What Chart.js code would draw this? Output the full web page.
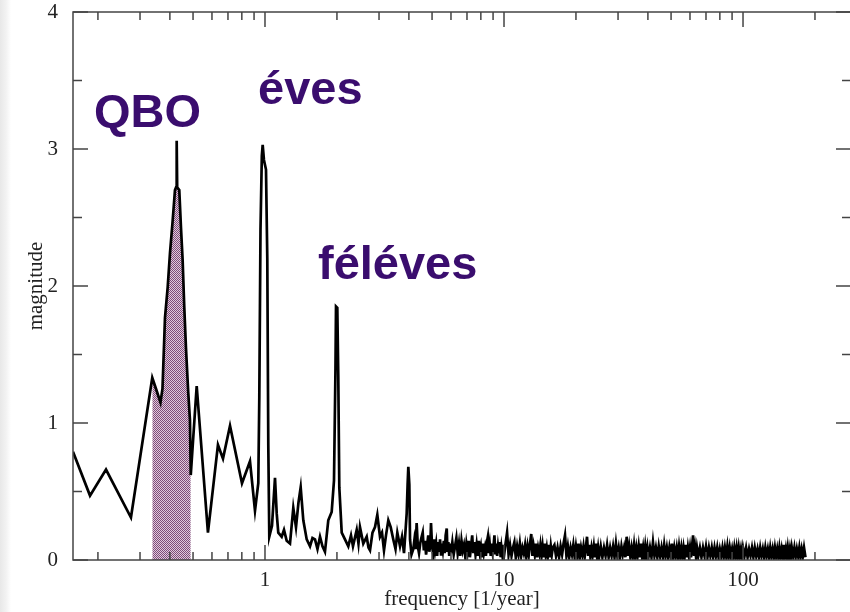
<!DOCTYPE html>
<html>
  <head>
    <title>Spectrum - magnitude</title>
    <style>
      html, body { margin: 0; padding: 0; overflow: hidden; }
      body {
        width: 850px; height: 612px;
        background: linear-gradient(to right, #e8e8e8 0px, #f2f2f2 6px, #ffffff 11px);
      }
      .chart-container { width: 860px; height: 612px; }
    </style>
  </head>
  <body>
    <div class="chart-container">
      <canvas id="mycanvas" width="860" height="612"></canvas>
    </div>

    <script src="https://cdn.jsdelivr.net/npm/chart.js@4.4.1/dist/chart.umd.min.js"></script>
    <script>
      // low frequency part (frequency in 1/year)
      var lowFreq = [0.1573, 0.1853, 0.2162, 0.2749, 0.3376, 0.3499, 0.3654, 0.3725, 0.3816, 0.3916,
        0.4004, 0.411, 0.4201, 0.4245, 0.4271, 0.4292, 0.4379, 0.445, 0.4523, 0.4594,
        0.467, 0.4775, 0.4854, 0.4891, 0.5179, 0.5772, 0.6357, 0.6672, 0.7139, 0.8012,
        0.8654, 0.9082, 0.9375, 0.9467, 0.9576, 0.970, 0.978, 0.990, 1.0097, 1.0224,
        1.0323, 1.0423, 1.0698, 1.1012, 1.1194, 1.1366, 1.1746, 1.2009, 1.2326, 1.2724,
        1.3135, 1.3481, 1.3808, 1.4104, 1.4465, 1.4947, 1.5429, 1.58, 1.619, 1.658,
        1.699, 1.740, 1.782, 1.840, 1.901, 1.944, 1.972, 1.982, 2.007, 2.026,
        2.046, 2.094, 2.161, 2.231, 2.290, 2.334, 2.419, 2.461, 2.497, 2.578,
        2.664, 2.710, 2.750, 2.817, 2.886, 2.951, 3.028, 3.087, 3.147, 3.208,
        3.281, 3.357, 3.442, 3.516, 3.578, 3.672, 3.743, 3.816, 3.916, 3.951,
        3.978, 4.017, 4.044, 4.102, 4.174];
      var lowMag = [0.79, 0.47, 0.66, 0.31, 1.33, 1.25, 1.15, 1.25, 1.77, 1.99,
        2.24, 2.48, 2.70, 2.72, 3.06, 2.72, 2.70, 2.43, 2.19, 1.85,
        1.55, 1.22, 1.02, 0.62, 1.27, 0.20, 0.84, 0.74, 0.98, 0.56,
        0.72, 0.36, 0.56, 1.19, 2.41, 2.95, 3.03, 2.92, 2.85, 2.20,
        0.84, 0.17, 0.25, 0.60, 0.34, 0.20, 0.17, 0.22, 0.14, 0.12,
        0.38, 0.24, 0.42, 0.53, 0.29, 0.15, 0.10, 0.16, 0.15, 0.08,
        0.17, 0.10, 0.06, 0.29, 0.35, 0.58, 1.40, 1.85, 1.84, 1.34,
        0.53, 0.20, 0.15, 0.10, 0.18, 0.10, 0.22, 0.12, 0.24, 0.12,
        0.17, 0.09, 0.07, 0.20, 0.24, 0.33, 0.17, 0.20, 0.07, 0.18,
        0.29, 0.24, 0.15, 0.08, 0.20, 0.10, 0.17, 0.05, 0.34, 0.55,
        0.68, 0.55, 0.15, 0.04, 0.08];

      // noisy high frequency part, in pieces
      var highFreq = [
        4.22, 4.27, 4.31, 4.36, 4.41, 4.46, 4.51, 4.57, 4.62, 4.67,
        4.72, 4.77, 4.82, 4.87, 4.92, 4.95, 5.00, 5.05, 5.10, 5.15,
        5.20, 5.25, 5.30, 5.35, 5.40, 5.45, 5.50, 5.55, 5.60, 5.65,
        5.70, 5.76, 5.80, 5.85, 5.90, 5.95, 6.00,
        6.08, 6.16, 6.24, 6.32, 6.40, 6.48, 6.56, 6.64, 6.72, 6.80,
        6.88, 6.96, 7.04, 7.12, 7.20, 7.28, 7.36, 7.44, 7.52, 7.60,
        7.68, 7.76, 7.84, 7.92, 8.00, 8.08, 8.16, 8.24, 8.32, 8.40,
        8.48, 8.56, 8.64, 8.72, 8.80, 8.88, 8.96, 9.04, 9.12, 9.20,
        9.28, 9.36, 9.44, 9.52, 9.60, 9.68, 9.76, 9.84, 9.92, 10.00,
        10.15, 10.30, 10.45, 10.60, 10.75, 10.90, 11.05, 11.20, 11.35, 11.50,
        11.65, 11.80, 11.95, 12.10, 12.25, 12.40, 12.55, 12.70, 12.85, 13.00,
        13.15, 13.30, 13.45, 13.60, 13.75, 13.90, 14.05, 14.20, 14.35, 14.50,
        14.65, 14.80, 14.95, 15.10, 15.25, 15.40, 15.55, 15.70, 15.85, 16.00,
        16.25, 16.50, 16.75, 17.00, 17.25, 17.50, 17.75, 18.00, 18.25, 18.50,
        18.75, 19.00, 19.25, 19.50, 19.75, 20.00, 20.25, 20.50, 20.75, 21.00,
        21.25, 21.50, 21.75, 22.00, 22.25, 22.50, 22.75, 23.00, 23.25, 23.50,
        23.75, 24.00, 24.25, 24.50, 24.75, 25.00,
        25.4, 25.8, 26.2, 26.6, 27.0, 27.4, 27.8, 28.2, 28.6, 29.0,
        29.4, 29.8, 30.2, 30.6, 31.0, 31.4, 31.8, 32.2, 32.6, 33.0,
        33.4, 33.8, 34.2, 34.6, 35.0, 35.4, 35.8, 36.2, 36.6, 37.0,
        37.4, 37.8, 38.2, 38.6, 39.0, 39.4, 39.8, 40.2,
        40.8, 41.4, 42.0, 42.6, 43.2, 43.8, 44.4, 45.0, 45.6, 46.2,
        46.8, 47.4, 48.0, 48.6, 49.2, 49.8, 50.4, 51.0, 51.6, 52.2,
        52.8, 53.4, 54.0, 54.6, 55.2, 55.8, 56.4, 57.0, 57.6, 58.2,
        58.8, 59.4, 60.0, 60.6, 61.2, 61.8, 62.4, 63.0, 63.6, 64.2,
        65, 66, 67, 68, 69, 70, 71, 72, 73, 74,
        75, 76, 77, 78, 79, 80, 81, 82, 83, 84,
        85, 86, 87, 88, 89, 90, 91, 92, 93, 94,
        95, 96, 97, 98, 99, 100,
        101.5, 103, 104.5, 106, 107.5, 109, 110.5, 112, 113.5, 115,
        116.5, 118, 119.5, 121, 122.5, 124, 125.5, 127, 128.5, 130,
        131.5, 133, 134.5, 136, 137.5, 139, 140.5, 142, 143.5, 145,
        146.5, 148, 149.5, 151, 152.5, 154, 155.5, 157, 158.5, 160,
        162, 164, 166, 168, 170, 172, 174, 176, 178, 180, 182.5];
      var highMag = [
        0.15, 0.08, 0.27, 0.10, 0.05, 0.12, 0.16, 0.20, 0.07, 0.14,
        0.04, 0.11, 0.18, 0.06, 0.12, 0.27, 0.10, 0.05, 0.15, 0.07,
        0.12, 0.03, 0.13, 0.06, 0.15, 0.04, 0.12, 0.07, 0.14, 0.05,
        0.18, 0.23, 0.06, 0.13, 0.03, 0.12, 0.05,
        0.13, 0.04, 0.10, 0.16, 0.05, 0.12, 0.03, 0.14, 0.07, 0.11,
        0.03, 0.12, 0.06, 0.14, 0.02, 0.10, 0.18, 0.05, 0.13, 0.04,
        0.11, 0.03, 0.14, 0.06, 0.10, 0.02, 0.12, 0.05, 0.09, 0.03,
        0.13, 0.17, 0.05, 0.11, 0.03, 0.12, 0.06, 0.10, 0.18, 0.04,
        0.12, 0.03, 0.10, 0.05, 0.13, 0.02, 0.09, 0.04, 0.11, 0.03,
        0.12, 0.20, 0.04, 0.11, 0.03, 0.09, 0.13, 0.02, 0.10, 0.04,
        0.12, 0.03, 0.09, 0.05, 0.11, 0.02, 0.10, 0.04, 0.12, 0.19,
        0.03, 0.10, 0.04, 0.12, 0.02, 0.09, 0.05, 0.11, 0.03, 0.10,
        0.02, 0.12, 0.04, 0.09, 0.03, 0.11, 0.02, 0.10, 0.04, 0.09,
        0.11, 0.03, 0.09, 0.02, 0.10, 0.04, 0.12, 0.18, 0.03, 0.10,
        0.02, 0.09, 0.04, 0.11, 0.02, 0.10, 0.03, 0.12, 0.02, 0.09,
        0.04, 0.10, 0.02, 0.09, 0.17, 0.03, 0.11, 0.02, 0.09, 0.04,
        0.10, 0.02, 0.12, 0.03, 0.09, 0.02,
        0.10, 0.02, 0.09, 0.03, 0.11, 0.02, 0.09, 0.03, 0.10, 0.02,
        0.12, 0.03, 0.09, 0.02, 0.10, 0.04, 0.09, 0.02, 0.17, 0.03,
        0.10, 0.02, 0.09, 0.03, 0.11, 0.02, 0.09, 0.03, 0.10, 0.02,
        0.12, 0.03, 0.09, 0.02, 0.10, 0.03, 0.09, 0.02,
        0.09, 0.02, 0.13, 0.03, 0.09, 0.02, 0.10, 0.03, 0.09, 0.02,
        0.11, 0.03, 0.09, 0.02, 0.09, 0.03, 0.12, 0.02, 0.09, 0.03,
        0.09, 0.02, 0.10, 0.03, 0.09, 0.02, 0.09, 0.03, 0.11, 0.02,
        0.09, 0.03, 0.09, 0.02, 0.10, 0.18, 0.03, 0.09, 0.02, 0.09,
        0.03, 0.09, 0.02, 0.09, 0.03, 0.10, 0.02, 0.09, 0.03, 0.09,
        0.02, 0.09, 0.03, 0.09, 0.02, 0.08, 0.03, 0.09, 0.02, 0.09,
        0.03, 0.10, 0.02, 0.09, 0.03, 0.08, 0.02, 0.09, 0.03, 0.09,
        0.02, 0.09, 0.03, 0.08, 0.02, 0.09,
        0.03, 0.09, 0.02, 0.08, 0.03, 0.09, 0.02, 0.09, 0.03, 0.08,
        0.02, 0.09, 0.03, 0.08, 0.02, 0.09, 0.03, 0.08, 0.02, 0.09,
        0.03, 0.08, 0.02, 0.09, 0.03, 0.08, 0.02, 0.09, 0.03, 0.08,
        0.02, 0.11, 0.03, 0.08, 0.02, 0.09, 0.03, 0.08, 0.02, 0.09,
        0.03, 0.09, 0.02, 0.08, 0.03, 0.09, 0.02, 0.08, 0.03, 0.09, 0.02];

      // shaded QBO band limits (1/year)
      var qboRange = [0.3376, 0.4891];

      var xLabels = [1, 10, 100];
      var xMinor = [0.2, 0.3, 0.4, 0.5, 0.6, 0.7, 0.8, 0.9, 2, 3, 4, 5, 6, 7, 8, 9,
        20, 30, 40, 50, 60, 70, 80, 90, 200];
      var yMajor = [0, 1, 2, 3, 4];
      var yMinor = [0.5, 1.5, 2.5, 3.5];

      var notes = [
        { text: "QBO", x: 0.1925, y: 3.16 },
        { text: "éves", x: 0.935, y: 3.33 },
        { text: "féléves", x: 1.666, y: 2.05 }
      ];

      var freq = lowFreq.concat(highFreq);
      var mag = lowMag.concat(highMag);
      if (freq.length != mag.length) console.log('length mismatch', freq.length, mag.length);

      var points = [];
      var qboPoints = [];
      for (var i = 0; i < freq.length; i++) {
        points.push({ x: freq[i], y: mag[i] });
        if (freq[i] >= qboRange[0] && freq[i] <= qboRange[1]) {
          qboPoints.push({ x: freq[i], y: mag[i] });
        }
      }

      // checker pattern for the shaded area
      var pc = document.createElement('canvas');
      pc.width = 2; pc.height = 2;
      var pctx = pc.getContext('2d');
      pctx.fillStyle = '#e0cadc';
      pctx.fillRect(0, 0, 2, 2);
      pctx.fillStyle = '#7e4c79';
      pctx.fillRect(0, 0, 1, 1);
      pctx.fillRect(1, 1, 1, 1);
      var ctx = document.getElementById('mycanvas').getContext('2d');
      var hatch = ctx.createPattern(pc, 'repeat');

      function near(v, list) {
        for (var k = 0; k < list.length; k++) {
          if (Math.abs(v - list[k]) < 1e-6 * list[k]) return true;
        }
        return false;
      }

      var framePlugin = {
        id: 'frame',
        afterDatasetsDraw: function(chart) {
          var c = chart.ctx, a = chart.chartArea;
          var xs = chart.scales.x, ys = chart.scales.y;
          c.save();
          c.strokeStyle = '#444444';
          c.lineWidth = 1.5;
          c.strokeRect(a.left, a.top, a.right - a.left, a.bottom - a.top);
          c.beginPath();
          function xTick(v, len) {
            var px = xs.getPixelForValue(v);
            c.moveTo(px, a.bottom); c.lineTo(px, a.bottom - len);
            c.moveTo(px, a.top); c.lineTo(px, a.top + len);
          }
          function yTick(v, len) {
            var py = ys.getPixelForValue(v);
            c.moveTo(a.left, py); c.lineTo(a.left + len, py);
            c.moveTo(a.right, py); c.lineTo(a.right - len, py);
          }
          xLabels.forEach(function(v) { xTick(v, 15); });
          xMinor.forEach(function(v) { xTick(v, 8); });
          yMajor.forEach(function(v) { yTick(v, 15); });
          yMinor.forEach(function(v) { yTick(v, 9); });
          c.stroke();

          c.fillStyle = '#3a0d6e';
          c.font = 'bold 47px "Liberation Sans", Arial, sans-serif';
          c.textBaseline = 'alphabetic';
          c.textAlign = 'left';
          notes.forEach(function(n) {
            c.fillText(n.text, xs.getPixelForValue(n.x), ys.getPixelForValue(n.y));
          });
          c.restore();
        }
      };

      var serif = { family: '"Liberation Serif", "Times New Roman", serif', size: 21 };

      var spectrum = new Chart(ctx, {
        type: 'line',
        data: {
          datasets: [
            {
              label: 'magnitude',
              data: points,
              borderColor: '#000000',
              borderWidth: 2.7,
              pointRadius: 0,
              tension: 0,
              fill: false,
              order: 0
            },
            {
              label: 'QBO',
              data: qboPoints,
              borderWidth: 0,
              borderColor: 'rgba(0,0,0,0)',
              backgroundColor: hatch,
              pointRadius: 0,
              tension: 0,
              fill: 'origin',
              order: 1
            }
          ]
        },
        options: {
          responsive: false,
          animation: false,
          layout: { padding: { left: 0, right: 9, top: 12, bottom: 0 } },
          plugins: { legend: { display: false }, tooltip: { enabled: false } },
          scales: {
            x: {
              type: 'logarithmic',
              min: 0.1573,
              max: 283,
              grid: { display: false },
              border: { display: false },
              ticks: {
                autoSkip: false,
                maxRotation: 0,
                padding: 0,
                color: '#222222',
                font: serif,
                callback: function(value) {
                  return near(value, xLabels) ? String(Math.round(value)) : '';
                }
              },
              title: {
                display: true,
                text: 'frequency [1/year]',
                color: '#222222',
                font: serif,
                padding: { top: 0, bottom: 0 }
              },
              afterFit: function(scale) {
                scale.height = 52;
                scale.paddingLeft = 0;
                scale.paddingRight = 0;
              }
            },
            y: {
              min: 0,
              max: 4,
              grid: { display: false },
              border: { display: false },
              ticks: {
                stepSize: 1,
                padding: 7,
                color: '#222222',
                font: serif
              },
              title: {
                display: true,
                text: 'magnitude',
                color: '#222222',
                font: serif,
                padding: { top: 24, bottom: 0 }
              },
              afterFit: function(scale) {
                scale.width = 73;
                scale.paddingTop = 0;
                scale.paddingBottom = 0;
              }
            }
          }
        },
        plugins: [framePlugin]
      });
    </script>
  </body>
</html>
